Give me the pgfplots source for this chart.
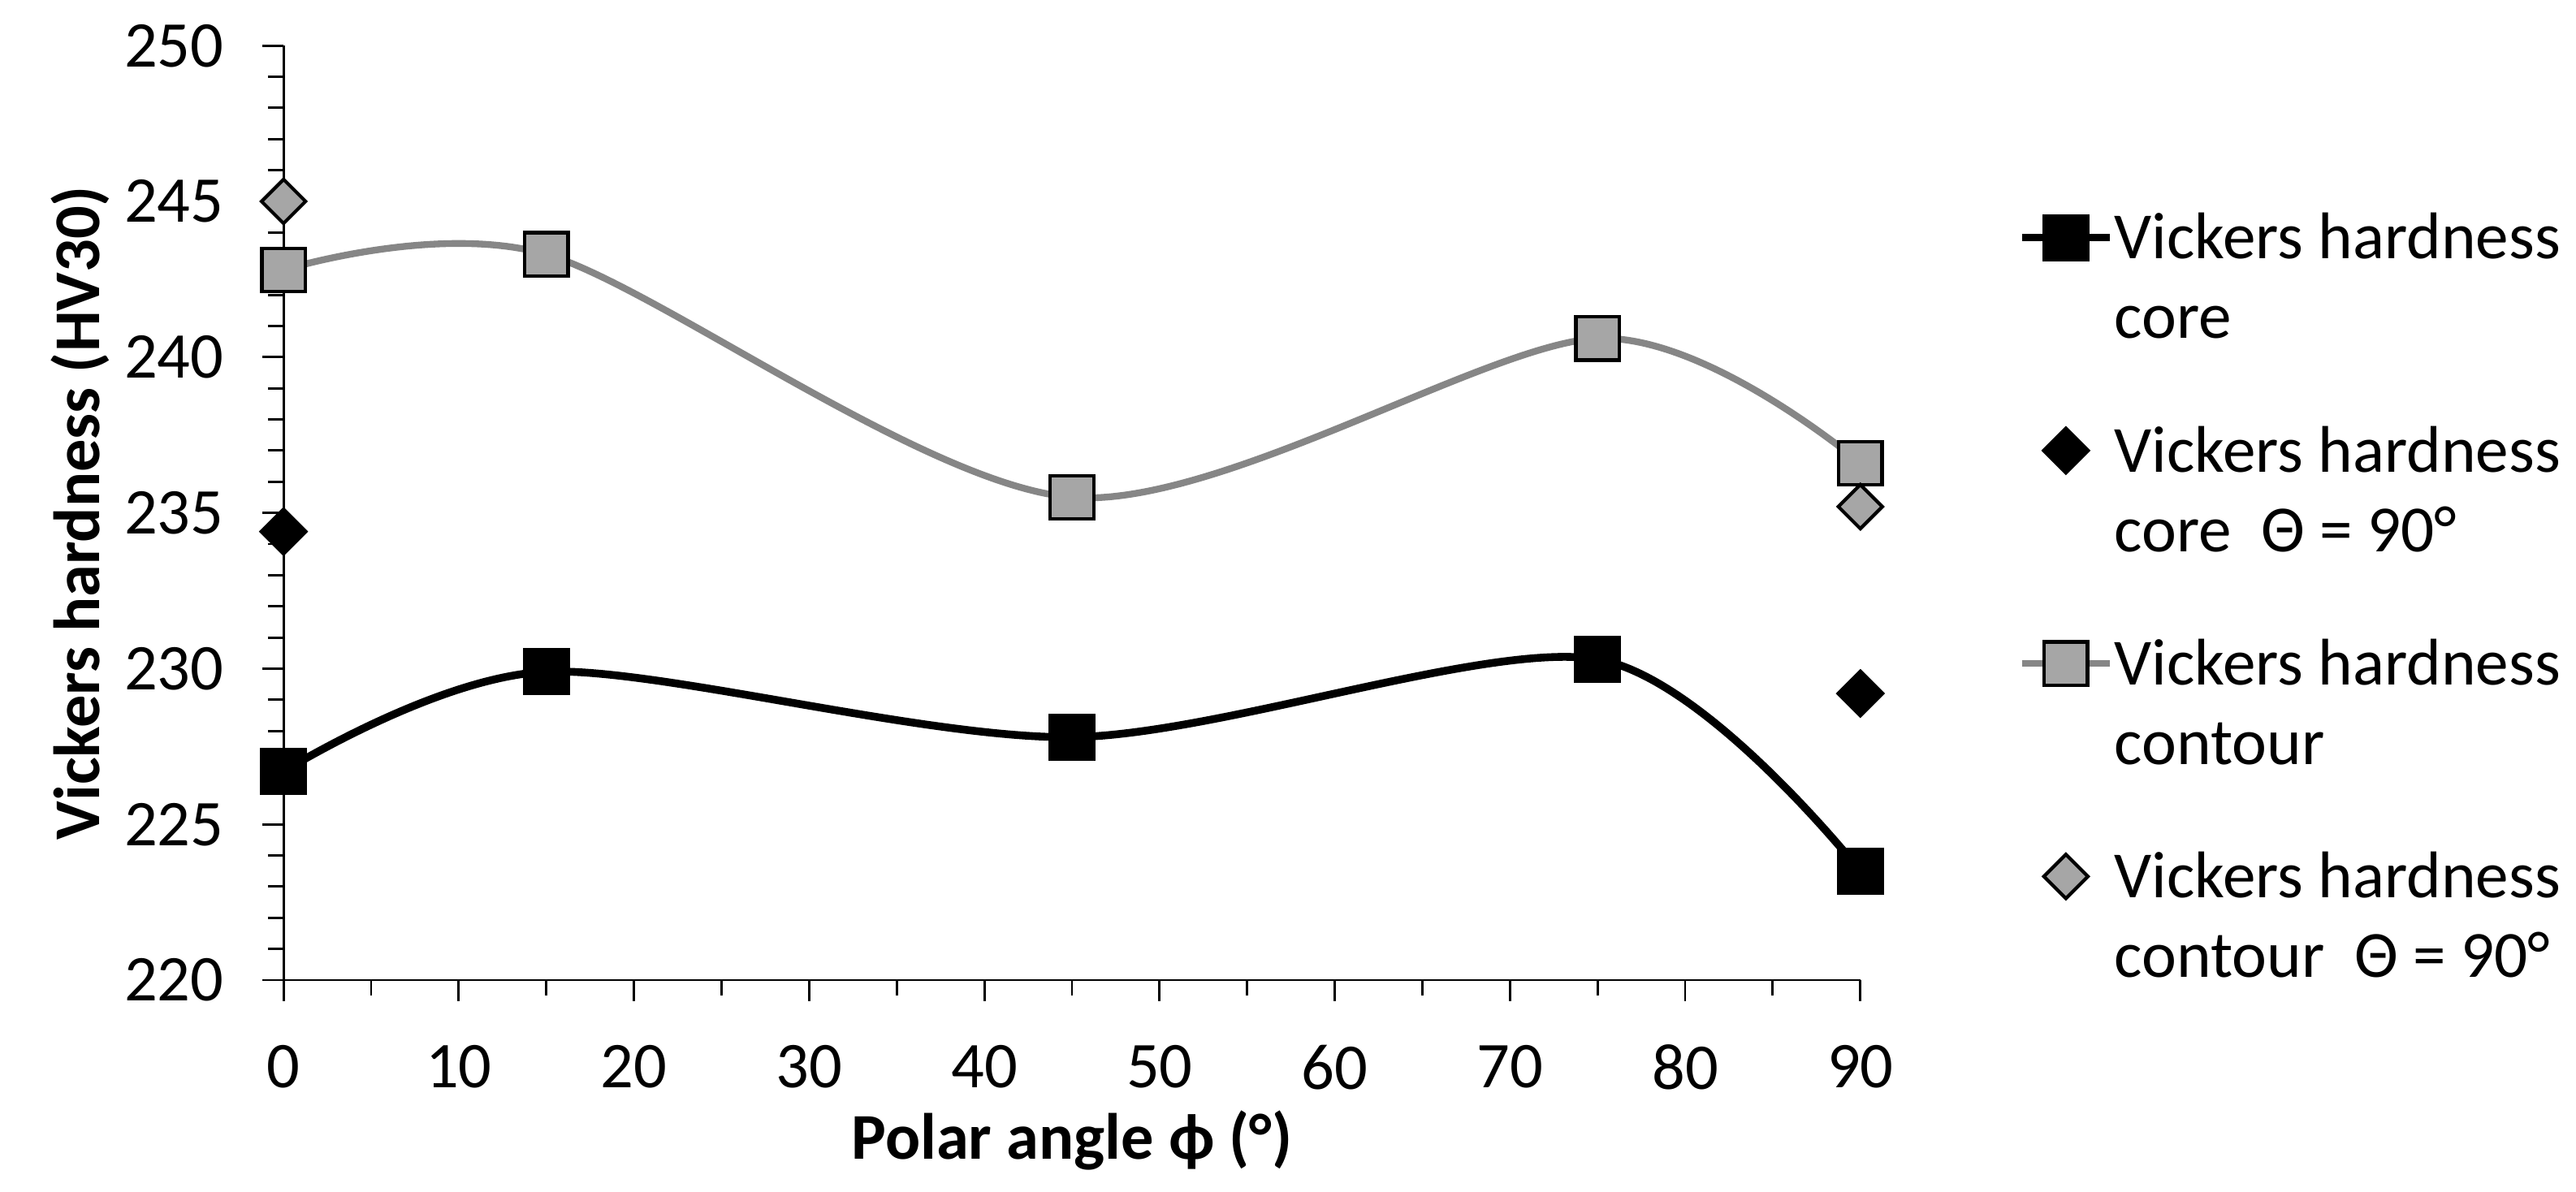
\documentclass[border=0pt]{standalone}
\usepackage{fontspec}
\setmainfont{Carlito}
\usepackage{pgfplots}
\pgfplotsset{compat=1.18}
\definecolor{cgray}{HTML}{A6A6A6}
\definecolor{lgray}{HTML}{868686}
\begin{document}
\begin{tikzpicture}
\begin{axis}[
  width=466pt, height=276.2pt, scale only axis,
  xmin=0, xmax=90, ymin=220, ymax=250,
  axis lines=left,
  axis line style={-, line width=0.7pt, black},
  xtick={0,10,...,90}, minor x tick num=1,
  ytick={220,225,...,250}, minor y tick num=4,
  tick align=outside, major tick length=6.2pt, minor tick length=4.6pt,
  every tick/.style={black, line width=0.7pt},
  font=\fontsize{19.3}{23.5}\selectfont,
  /pgf/number format/assume math mode=true,
  yticklabel style={inner sep=0pt, xshift=-11.3pt},
  xticklabel style={inner sep=0pt, yshift=-12.8pt},
  xlabel={\bfseries Polar angle ϕ (°)},
  ylabel={\bfseries Vickers hardness (HV30)},
  xlabel style={at={([yshift=-53pt]axis description cs:0.5,0)}, anchor=base},
  ylabel style={at={([xshift=-54.5pt]axis description cs:0,0.5)}, anchor=base, rotate=0},
  clip=false,
  legend style={at={(axis description cs:1.1,0.828)}, anchor=north west, draw=none, fill=none,
    inner sep=0pt, outer sep=0pt, row sep=43.9pt, column sep=-1.8pt,
    font=\fontsize{19.5}{23.5}\selectfont,
    cells={anchor=base west, inner sep=0pt}},
  legend image code/.code={\draw[mark repeat=2, mark phase=2] plot coordinates {(0pt,6.3pt) (13pt,6.3pt) (26pt,6.3pt)};},
]
\addplot[black, line width=2.3pt, smooth, mark=square*, mark size=6.6pt,
  mark options={solid, fill=black, draw=black, line width=0.7pt}]
  coordinates {(0,226.7) (15,229.9) (45,227.8) (75,230.3) (90,223.5)};
\addlegendentry{\parbox[t]{6cm}{Vickers hardness\\core}}
\addplot[only marks, mark=square*, mark size=4.8pt,
  mark options={rotate=45, fill=black, draw=black, line width=0.7pt}]
  coordinates {(0,234.4) (90,229.2)};
\addlegendentry{\parbox[t]{6cm}{Vickers hardness\\core~~Θ = 90°}}
\addplot[lgray, line width=2.0pt, smooth, mark=square*, mark size=6.4pt,
  mark options={solid, fill=cgray, draw=black, line width=1pt}]
  coordinates {(0,242.8) (15,243.3) (45,235.5) (75,240.6) (90,236.6)};
\addlegendentry{\parbox[t]{6cm}{Vickers hardness\\contour}}
\addplot[only marks, mark=square*, mark size=4.6pt,
  mark options={rotate=45, fill=cgray, draw=black, line width=1pt}]
  coordinates {(0,245.0) (90,235.2)};
\addlegendentry{\parbox[t]{6cm}{Vickers hardness\\contour~~Θ = 90°}}
\end{axis}
\pgfresetboundingbox
\path (-83.8pt,-62.6pt) rectangle (677.5pt,289.7pt);
\end{tikzpicture}
\end{document}
